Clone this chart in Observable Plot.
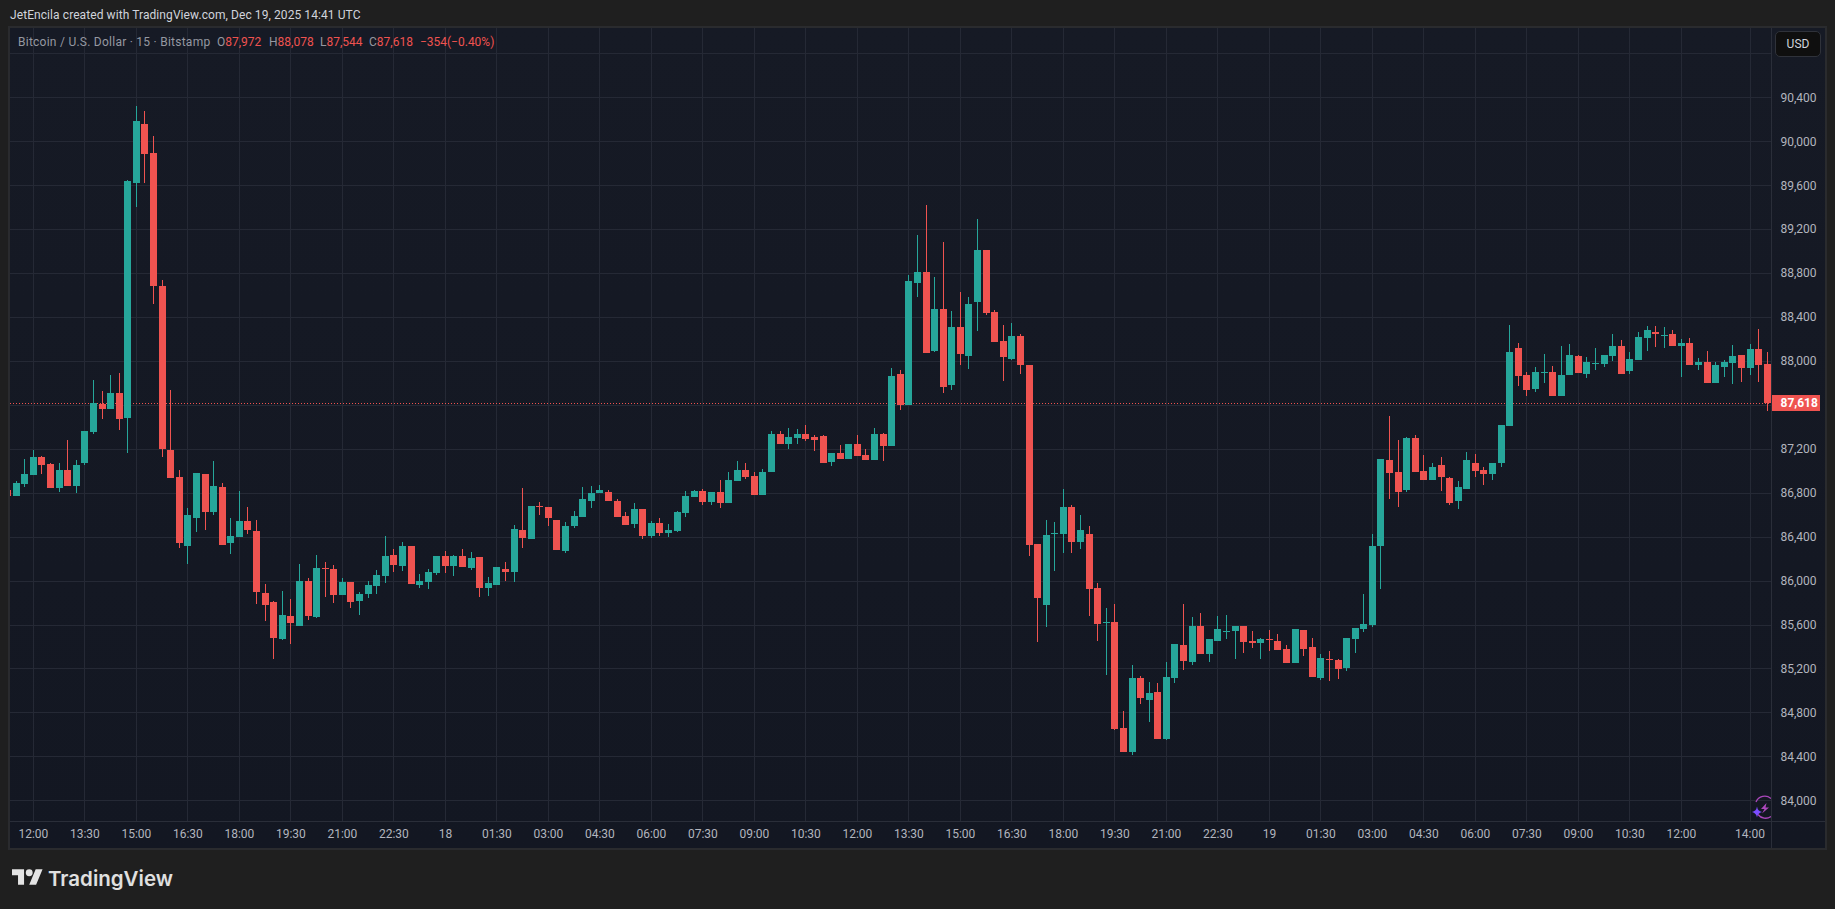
<!DOCTYPE html>
<html>
<head>
<meta charset="utf-8">
<script src="https://cdn.jsdelivr.net/npm/d3@7"></script>
<script src="https://cdn.jsdelivr.net/npm/@observablehq/plot@0.6"></script>
<style>
html,body{margin:0;padding:0;background:#1f1f1f;}
#page{position:relative;width:1835px;height:909px;overflow:hidden;background:#1f1f1f;font-family:Roboto,sans-serif;}
#frame{position:absolute;left:8px;top:26px;width:1815px;height:820px;border:2px solid #2a2b2e;}
#page svg{display:block;}
#chart{position:absolute;left:10px;top:28px;}
.t{position:absolute;white-space:nowrap;line-height:14px;}
.head{left:10px;top:8px;font-size:12px;color:#d1d4dc;letter-spacing:.08px;}
.leg{top:35px;font-size:12px;color:#9598a1;}
.name{letter-spacing:.25px;}
.red{color:#ef5350;}
#usd{position:absolute;left:1775px;top:31px;width:44px;height:24px;border:1px solid #2f323a;border-radius:5px;background:#0f0f0f;color:#d1d4dc;font-size:12px;line-height:24px;text-align:center;}
#logo{position:absolute;left:12px;top:867px;}
#brand{position:absolute;left:48px;top:866px;font-family:Inter,sans-serif;font-weight:600;font-size:20.5px;line-height:26px;color:#e0e0e0;}
#spark{position:absolute;left:1750px;top:795px;}
</style>
</head>
<body>
<div id="page">
  <div class="t head">JetEncila created with TradingView.com, Dec 19, 2025 14:41 UTC</div>
  <div id="frame"></div>
  <div id="chart"></div>
  <div class="t leg name" style="left:18px">Bitcoin / U.S. Dollar · 15 · Bitstamp</div>
  <div class="t leg" style="left:217px">O<span class="red">87,972</span></div>
  <div class="t leg" style="left:269px">H<span class="red">88,078</span></div>
  <div class="t leg" style="left:320px">L<span class="red">87,544</span></div>
  <div class="t leg" style="left:369px">C<span class="red">87,618</span></div>
  <div class="t leg red" style="left:420px">−354</div>
  <div class="t leg red" style="left:447px">(−0.40%)</div>
  <div id="usd">USD</div>
  <svg id="spark" width="21" height="26" viewBox="0 0 21 26">
    <path d="M6 7 A9.5 9.5 0 0 1 21 3.5 M8 19.5 A9.5 9.5 0 0 0 21 21.5" fill="none" stroke="#ab47bc" stroke-width="1.3"/>
    <path d="M16.5 8 L11 14 L14.5 14 L12 18.5 L19 12.5 L15.5 12.5 Z" fill="#ab47bc"/>
    <path d="M7 11.5 Q7.6 16 12 17 Q7.6 18 7 22.5 Q6.4 18 2 17 Q6.4 16 7 11.5 Z" fill="#7c4dff"/>
  </svg>
  <svg id="logo" width="31" height="20" viewBox="0 2 36 22"><path fill="#e4e4e4" d="M14 22H7V11H0V4h14v18zM28 22h-8l7.5-18h8L28 22z"/><circle fill="#e4e4e4" cx="20" cy="8" r="4"/></svg>
  <div id="brand">TradingView</div>
</div>
<script>
const startTime = "2025-12-17T11:15:00Z";
const opens = [
86821,86767,86876,86958,87121,87058,86840,87003,86858,87067,
87349,87612,87558,87712,87476,89621,90158,89894,88685,87185,
86940,86312,86567,86967,86621,86849,86340,86394,86540,86449,
85885,85803,85467,85676,85585,85994,85667,86112,86103,85867,
85985,85812,85876,85949,86040,86230,86130,86312,85958,85985,
86067,86221,86130,86221,86112,86212,85930,85958,86103,86076,
86458,86376,86676,86667,86549,86267,86494,86576,86721,86794,
86803,86721,86585,86512,86649,86403,86521,86430,86449,86612,
86758,86812,86712,86803,86703,86903,87003,86949,86776,86985,
87339,87248,87294,87339,87303,87312,87076,87158,87103,87239,
87139,87094,87330,87221,87885,87603,88712,88812,88094,88476,
87785,88312,88048,88539,89012,88448,88185,88021,88230,87967,
86330,85776,86421,86421,86667,86349,86421,85930,85612,85621,
84658,84440,85112,84912,84985,84558,85112,85412,85258,85585,
85330,85449,85530,85539,85585,85449,85430,85467,85449,85376,
85249,85549,85394,85112,85285,85276,85203,85467,85558,85594,
86312,87094,86985,86821,87294,86994,86912,87049,86930,86721,
86830,87067,87003,86967,87067,87403,88121,87876,87748,87894,
87903,87676,87876,88048,87885,87976,87976,88048,88139,87912,
88012,88212,88267,88230,88248,88139,88167,87967,87994,87803,
87948,87985,88058,87939,88112,87972];
const highs = [
86821,86903,87103,87185,87130,87067,87067,87276,87094,87358,
87830,87730,87876,87894,89648,90321,90276,90049,88740,87739,
87003,86658,86976,86967,87085,86885,86567,86812,86667,86549,
85967,85812,85903,85831,86149,86021,86230,86167,86140,86021,
85985,85894,85994,86094,86403,86285,86349,86312,86058,86103,
86221,86267,86230,86285,86258,86212,86030,86121,86167,86503,
86839,86676,86712,86667,86549,86536,86630,86849,86858,86867,
86821,86739,86621,86703,86649,86539,86567,86512,86630,86812,
86821,86830,86803,86912,86985,87085,87067,86985,87012,87358,
87358,87385,87376,87412,87321,87321,87158,87230,87239,87321,
87194,87385,87348,87939,87921,88785,89148,89421,88767,89085,
88458,88630,88585,89294,89012,88467,88330,88348,88248,87967,
86330,86549,86530,86830,86685,86594,86494,85976,85749,85785,
84812,85230,85130,85076,85067,85258,85421,85785,85667,85703,
85467,85676,85685,85585,85585,85539,85476,85549,85512,85412,
85558,85549,85476,85330,85358,85285,85476,85567,85876,86421,
87103,87494,87276,87303,87321,87139,87067,87121,86940,86903,
87167,87149,87030,87067,87412,88330,88167,87903,87948,88067,
87958,88139,88158,88058,88039,88121,88058,88248,88194,88085,
88267,88321,88321,88312,88285,88203,88212,88030,88094,87994,
88012,88148,88058,88158,88294,88078];
const lows = [
86767,86767,86849,86958,86967,86840,86803,86858,86794,87049,
87339,87467,87558,87367,87158,89403,89621,88515,87121,86930,
86294,86149,86440,86458,86594,86321,86240,86394,86421,85785,
85631,85285,85458,85421,85585,85640,85658,85849,85794,85867,
85749,85685,85840,85876,85976,86076,86085,85967,85930,85921,
86049,86067,86040,86121,86094,85849,85858,85958,85994,85985,
86294,86376,86594,86494,86276,86249,86476,86576,86658,86794,
86721,86576,86503,86476,86376,86385,86403,86394,86439,86576,
86758,86685,86685,86658,86703,86903,86921,86776,86776,86985,
87239,87194,87239,87267,87176,87067,87039,87103,87103,87130,
87094,87094,87085,87221,87549,87603,88585,88076,88085,87712,
87739,87967,87930,88276,88421,88176,87821,88012,87885,86221,
85440,85576,86085,86249,86249,86285,85676,85449,85140,84640,
84440,84412,84876,84712,84558,84549,85067,85185,85230,85330,
85258,85449,85467,85285,85339,85385,85285,85358,85367,85249,
85249,85312,85121,85094,85085,85103,85176,85339,85530,85576,
85921,86740,86667,86803,86985,86912,86912,86812,86685,86649,
86830,86940,86867,86912,87030,87403,87767,87676,87721,87803,
87676,87676,87876,87894,87848,87921,87948,88003,87885,87885,
88012,88094,88130,88121,88139,87858,87967,87921,87803,87803,
87858,87794,87812,87876,87812,87544];
const closes = [
86767,86885,86967,87121,87049,86840,87003,86858,87049,87358,
87621,87558,87712,87467,89639,90185,89885,88679,87194,86930,
86340,86594,86976,86621,86858,86321,86403,86540,86458,85894,
85776,85476,85685,85612,85994,85676,86112,86103,85867,85985,
85803,85876,85958,86049,86221,86140,86312,85967,85994,86076,
86221,86130,86221,86121,86203,85930,85976,86121,86076,86467,
86385,86676,86667,86567,86276,86494,86585,86739,86794,86821,
86721,86576,86503,86649,86403,86521,86430,86458,86621,86767,
86812,86712,86803,86703,86912,87003,86939,86776,86985,87339,
87248,87303,87330,87285,87276,87067,87158,87103,87239,87130,
87094,87330,87221,87867,87594,88730,88812,88076,88476,87758,
88312,88067,88521,89012,88439,88176,88039,88230,87967,86321,
85840,86412,86430,86667,86349,86458,85921,85603,85621,84649,
84440,85112,84930,84976,84558,85121,85421,85267,85585,85330,
85467,85558,85539,85585,85439,85430,85467,85458,85367,85249,
85558,85376,85121,85294,85276,85194,85476,85567,85603,86312,
87103,86976,86803,87294,86985,86912,87030,86940,86703,86849,
87094,86994,86967,87067,87412,88085,87867,87739,87903,87903,
87676,87876,88058,87894,87994,87985,88058,88139,87885,88021,
88221,88285,88248,88239,88139,88167,87967,87994,87803,87967,
87994,88048,87939,88112,87967,87618];
const priceGrid = [84000,84400,84800,85200,85600,86000,86400,86800,87200,87600,88000,88400,88800,89200,89600,90000,90400,90800];
const priceHidden = [87600,90800];
const timeTicks = [
"2025-12-17T12:00Z","2025-12-17T13:30Z","2025-12-17T15:00Z","2025-12-17T16:30Z","2025-12-17T18:00Z","2025-12-17T19:30Z","2025-12-17T21:00Z","2025-12-17T22:30Z",
"2025-12-18T00:00Z","2025-12-18T01:30Z","2025-12-18T03:00Z","2025-12-18T04:30Z","2025-12-18T06:00Z","2025-12-18T07:30Z","2025-12-18T09:00Z","2025-12-18T10:30Z",
"2025-12-18T12:00Z","2025-12-18T13:30Z","2025-12-18T15:00Z","2025-12-18T16:30Z","2025-12-18T18:00Z","2025-12-18T19:30Z","2025-12-18T21:00Z","2025-12-18T22:30Z",
"2025-12-19T00:00Z","2025-12-19T01:30Z","2025-12-19T03:00Z","2025-12-19T04:30Z","2025-12-19T06:00Z","2025-12-19T07:30Z","2025-12-19T09:00Z","2025-12-19T10:30Z",
"2025-12-19T12:00Z","2025-12-19T14:00Z"].map(s => new Date(s));
const timeDomain = ["2025-12-17T11:20:00Z","2025-12-19T14:37:29Z"].map(s => new Date(s));
const priceDomain = [83811,91031];
const lastClose = 87618;

const UP = "#26a69a", DOWN = "#ef5350", GRID = "#252935", AXIS = "#2a2e39", TEXT = "#b2b5be";
const t0 = +new Date(startTime);
const candles = opens.map((o,i)=>({t:new Date(t0+i*900000),o,h:highs[i],l:lows[i],c:closes[i],dir:closes[i]>=o?"up":"down"}));
const fmtTime = d3.utcFormat("%H:%M"), fmtDay = d3.utcFormat("%-d");
const tickFmt = d => (d.getUTCHours()===0 && d.getUTCMinutes()===0) ? fmtDay(d) : fmtTime(d);
const price = d3.format(",");

const plot = Plot.plot({
  width:1815, height:820,
  marginLeft:0, marginRight:54, marginTop:0, marginBottom:27,
  x:{type:"utc", domain:timeDomain},
  y:{domain:priceDomain},
  color:{domain:["up","down"], range:[UP,DOWN]},
  style:{background:"linear-gradient(#161a25,#131722)", fontFamily:"Roboto,sans-serif", fontSize:"12px", color:TEXT, overflow:"hidden"},
  marks:[
    Plot.gridX(timeTicks,{stroke:GRID, strokeOpacity:1, shapeRendering:"crispEdges"}),
    Plot.gridY(priceGrid,{stroke:GRID, strokeOpacity:1, shapeRendering:"crispEdges"}),
    Plot.ruleY([priceDomain[0]],{stroke:AXIS, strokeWidth:1, insetRight:-54, shapeRendering:"crispEdges"}),
    Plot.ruleX([timeDomain[1]],{stroke:AXIS, strokeWidth:1, insetBottom:-27, shapeRendering:"crispEdges"}),
    Plot.ruleY([lastClose],{stroke:DOWN, strokeWidth:1, strokeDasharray:"1 2", shapeRendering:"crispEdges"}),
    Plot.ruleX(candles,{x:"t", y1:"l", y2:"h", stroke:"dir", strokeWidth:1, shapeRendering:"crispEdges"}),
    Plot.ruleX(candles,{x:"t", y1:"o", y2:"c", stroke:"dir", strokeWidth:7, shapeRendering:"crispEdges"}),
    Plot.axisX({ticks:timeTicks, tickFormat:tickFmt, tickSize:0, tickPadding:8, anchor:"bottom", label:null, color:TEXT, fontSize:12}),
    Plot.axisY({ticks:priceGrid.filter(v=>!priceHidden.includes(v)), tickFormat:price, tickSize:0, tickPadding:9, anchor:"right", label:null, color:TEXT, fontSize:12}),
    Plot.ruleY([lastClose],{stroke:DOWN, strokeWidth:16, insetLeft:1762, insetRight:-49, shapeRendering:"crispEdges"}),
    Plot.text([lastClose],{y:d=>d, text:price, frameAnchor:"right", textAnchor:"start", dx:9, fill:"#ffffff", fontWeight:"700", fontSize:12})
  ]
});
document.getElementById("chart").appendChild(plot);
</script>
</body>
</html>
